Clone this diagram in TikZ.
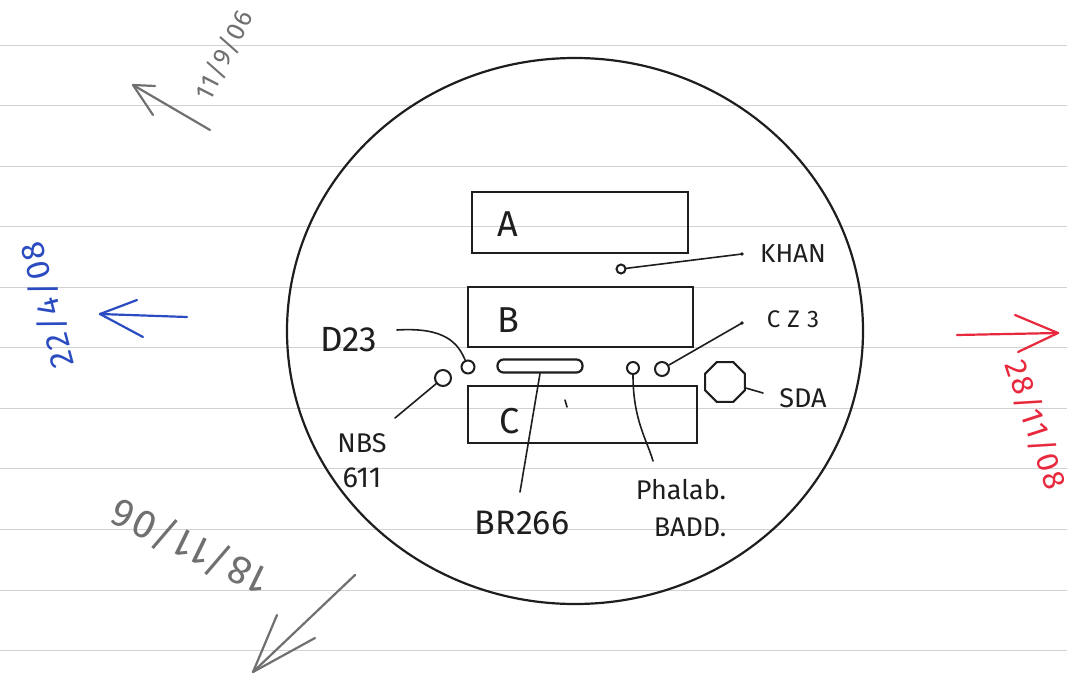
\documentclass[tikz,border=0pt]{standalone}
\usepackage{fontspec}
\usetikzlibrary{shapes.geometric}
\setmainfont{Fira Sans}
\definecolor{pencil}{HTML}{707070}
\definecolor{bluepen}{HTML}{2A4CC0}
\definecolor{redpen}{HTML}{E8283C}
\definecolor{ruled}{HTML}{D2D2D2}
\definecolor{ink}{HTML}{1E1E1E}
\newcommand\hwsize[1]{\fontsize{#1}{#1}\selectfont}
\newcommand\hwspaced[1]{\addfontfeature{LetterSpace=#1}}
\begin{document}
\begin{tikzpicture}[x=1pt,y=-1pt,
  stroke/.style={draw=ink, line width=2.2pt, line cap=round, line join=round},
  lead/.style={draw=ink, line width=1.6pt, line cap=round},
  boxnode/.style={draw=ink, line width=2.4pt, rectangle, inner sep=0pt},
  hole/.style={draw=ink, line width=2pt, circle, inner sep=0pt},
  lab/.style={text=ink, inner sep=0pt},
  datearrow/.style={line width=2.2pt, line cap=round, line join=round}]
\useasboundingbox (0,0) rectangle (1067,679);
\fill[white] (0,0) rectangle (1067,679);
% ruled paper
\foreach \k in {0,...,10}
  \draw[ruled, line width=0.9pt] (0,{45+60.55*\k}) -- (1067,{45+60.55*\k});
% dial
\draw[stroke] (575,331) ellipse [x radius=288, y radius=273];
% boxes
\node[boxnode, minimum width=216, minimum height=61] (boxA) at (580,222.5) {};
\node[boxnode, minimum width=225, minimum height=60] (boxB) at (580.5,317) {};
\node[boxnode, minimum width=229, minimum height=57] (boxC) at (582.5,414.5) {};
\node[lab, font=\hwsize{36}] (labA) at (508,224) {A};
\node[lab, font=\hwsize{36}] (labB) at (508,320) {B};
\node[lab, font=\hwsize{36}] (labC) at (510,421) {C};
\draw[lead] (565,400) -- (567,407);
% slot and holes
\node[draw=ink, line width=2.2pt, rounded corners=6pt, minimum width=85, minimum height=13, inner sep=0pt] (slot) at (540,366) {};
\node[hole, minimum size=13] (d23c) at (468,367) {};
\node[hole, minimum size=16] (nbsc) at (443,378) {};
\node[hole, minimum size=12] (phc) at (633,368) {};
\node[hole, minimum size=14] (czc) at (662,369) {};
\node[hole, minimum size=9] (khanc) at (621,269) {};
\node[draw=ink, line width=2.2pt, regular polygon, regular polygon sides=8, minimum size=43, inner sep=0pt] (sdac) at (725,382) {};
% labels
\node[lab, font=\hwsize{26}] (khan) at (793,254) {KHAN};
\node[lab, font=\hwsize{24}\hwspaced{30}] (cz3) at (793,319) {CZ3};
\node[lab, font=\hwsize{27}] (sda) at (803,398) {SDA};
\node[lab, font=\hwsize{35}] (d23) at (349,340) {D23};
\node[lab, font=\hwsize{27}] (nbs) at (362,443) {NBS};
\node[lab, font=\hwsize{29}] (n611) at (362,478) {611};
\node[lab, font=\hwsize{34}] (br) at (522,523) {BR266};
\node[lab, font=\hwsize{27}] (phalab) at (681,490) {Phalab.};
\node[lab, font=\hwsize{27}] (badd) at (690,527) {BADD.};
% leader end points
\coordinate (khanE) at (742,254);
\coordinate (czE) at (742,323);
\coordinate (sdaE) at (763,393);
\coordinate (d23E) at (397,330);
\coordinate (nbsE) at (395,418);
\coordinate (brE) at (520,492);
\coordinate (phE) at (653,461);
% leaders
\draw[lead] (khanc) -- (khanE);
\fill[ink] (khanE) circle (1.8pt);
\draw[lead] (czc) -- (czE);
\fill[ink] (czE) circle (1.8pt);
\draw[lead] (sdac) -- (sdaE);
\draw[lead] (d23E) .. controls (445,327) and (458,343) .. (d23c);
\draw[lead] (nbsc) -- (nbsE);
\draw[lead] (slot.south) -- (brE);
\draw[lead] (phc.south) .. controls (633,420) and (647,440) .. (phE);
% date arrows
\coordinate (gTail) at (210,130); \coordinate (gTip) at (133,85);
\coordinate (gB1) at (155,86); \coordinate (gB2) at (153,115);
\draw[datearrow, pencil] (gTail) -- (gTip);
\draw[datearrow, pencil] (gB1) -- (gTip) -- (gB2);
\node[text=pencil, inner sep=0pt, font=\hwsize{26}\hwspaced{5}, rotate=63] (d1) at (224,55) {11/9/06};

\coordinate (bTail) at (187,317); \coordinate (bTip) at (100,314);
\coordinate (bB1) at (137,300); \coordinate (bB2) at (143,337);
\draw[datearrow, bluepen] (bTail) -- (bTip);
\draw[datearrow, bluepen] (bB1) -- (bTip) -- (bB2);
\node[text=bluepen, inner sep=0pt, font=\hwsize{33}\hwspaced{5}, rotate=105] (d2) at (47,305) {22/4/08};

\coordinate (rTail) at (957,335); \coordinate (rTip) at (1058,333);
\coordinate (rB1) at (1015,315); \coordinate (rB2) at (1018,352);
\draw[datearrow, redpen] (rTail) -- (rTip);
\draw[datearrow, redpen] (rB1) -- (rTip) -- (rB2);
\node[text=redpen, inner sep=0pt, font=\hwsize{31}\hwspaced{5}, rotate=-72] (d3) at (1036,425) {28/11/08};

\coordinate (pTail) at (355,575); \coordinate (pTip) at (253,672);
\coordinate (pB1) at (277,615); \coordinate (pB2) at (315,638);
\draw[datearrow, pencil] (pTail) -- (pTip);
\draw[datearrow, pencil] (pB1) -- (pTip) -- (pB2);
\node[text=pencil, inner sep=0pt, font=\hwsize{40}\hwspaced{5}, rotate=154] (d4) at (190,547) {18/11/06};
\end{tikzpicture}
\end{document}
